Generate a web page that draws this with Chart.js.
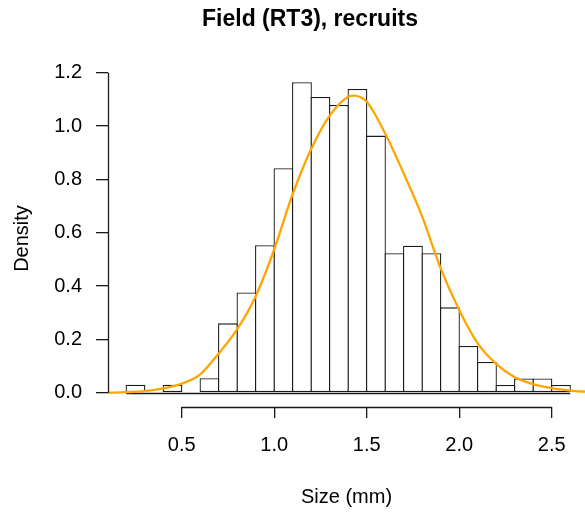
<!DOCTYPE html>
<html>
<head>
<meta charset="utf-8">
<script src="https://cdn.jsdelivr.net/npm/chart.js@4"></script>
<style>
  body { margin: 0; background: #fff; }
  .chart-container { position: relative; width: 585px; height: 512px; }
</style>
</head>
<body>
<div class="chart-container">
  <canvas id="hist-chart"></canvas>
</div>
<script>
// histogram: bin mids (mm) and density, bin width 0.1
const binMids = [0.25, 0.35, 0.45, 0.55, 0.65, 0.75, 0.85, 0.95, 1.05, 1.15, 1.25, 1.35,
                 1.45, 1.55, 1.65, 1.75, 1.85, 1.95, 2.05, 2.15, 2.25, 2.35, 2.45, 2.55];
const density = [0.030, 0, 0.030, 0, 0.054, 0.260, 0.376, 0.553, 0.842, 1.164, 1.109, 1.079,
                 1.139, 0.964, 0.523, 0.551, 0.523, 0.320, 0.175, 0.115, 0.029, 0.053, 0.053, 0.029];
const binWidth = 0.1;

// density curve
const curveX = [0.1, 0.2, 0.3, 0.4, 0.5, 0.6, 0.7, 0.8, 0.9, 1.0, 1.1, 1.2, 1.3, 1.4, 1.43,
                1.5, 1.6, 1.7, 1.8, 1.9, 2.0, 2.1, 2.2, 2.3, 2.4, 2.5, 2.6, 2.7];
const curveY = [0.000, 0.002, 0.006, 0.016, 0.034, 0.069, 0.147, 0.238, 0.362, 0.537, 0.745, 0.914,
                1.039, 1.110, 1.114, 1.091, 0.972, 0.822, 0.660, 0.466, 0.310, 0.185, 0.108, 0.058,
                0.032, 0.017, 0.008, 0.003];

const xTicks = [0.5, 1.0, 1.5, 2.0, 2.5];
const yTicks = [0, 0.2, 0.4, 0.6, 0.8, 1.0, 1.2];

const FONT = '"Liberation Sans", Arial, sans-serif';
const INK = '#1a1a1a';

// R-style axes: lines only between first and last tick, plus the main title
const rStyle = {
  id: 'rStyle',
  beforeDatasetsDraw(chart) {
    const { ctx, scales: { x, y } } = chart;
    const y0 = Math.round(y.getPixelForValue(0)) + 0.5;
    ctx.save();
    ctx.strokeStyle = INK;
    ctx.lineWidth = 1.3;
    ctx.beginPath();
    ctx.moveTo(x.getPixelForValue(binMids[0] - binWidth / 2), y0);
    ctx.lineTo(x.getPixelForValue(binMids[binMids.length - 1] + binWidth / 2), y0);
    ctx.stroke();
    ctx.restore();
  },
  afterDraw(chart) {
    const { ctx, chartArea, scales: { x, y } } = chart;
    const left = Math.round(chartArea.left) + 0.5;
    const bottom = Math.round(chartArea.bottom) + 0.5;
    ctx.save();
    ctx.strokeStyle = INK;
    ctx.lineWidth = 1.3;
    ctx.beginPath();
    ctx.moveTo(x.getPixelForValue(xTicks[0]), bottom);
    ctx.lineTo(x.getPixelForValue(xTicks[xTicks.length - 1]), bottom);
    ctx.moveTo(left, y.getPixelForValue(yTicks[0]));
    ctx.lineTo(left, y.getPixelForValue(yTicks[yTicks.length - 1]));
    ctx.stroke();

    ctx.fillStyle = '#000';
    ctx.font = 'bold 23px ' + FONT;
    ctx.textAlign = 'center';
    ctx.textBaseline = 'alphabetic';
    ctx.fillText('Field (RT3), recruits', 310, 26);
    ctx.restore();
  }
};

const ctx = document.getElementById('hist-chart');
new Chart(ctx, {
  data: {
    datasets: [
      {
        type: 'line',
        data: curveX.map((v, i) => ({ x: v, y: curveY[i] })),
        borderColor: '#FFA500',
        borderWidth: 2.3,
        pointRadius: 0,
        cubicInterpolationMode: 'monotone',
        order: 0,
      },
      {
        type: 'bar',
        data: binMids.map((v, i) => ({ x: v, y: density[i] })),
        backgroundColor: '#fff',
        borderColor: INK,
        borderWidth: 1.3,
        borderSkipped: false,
        categoryPercentage: 1,
        barPercentage: 1.07,
        order: 1,
      },
    ],
  },
  options: {
    responsive: true,
    maintainAspectRatio: false,
    animation: false,
    layout: { padding: { top: 70, left: 0, right: 0, bottom: 0 } },
    plugins: {
      legend: { display: false },
      tooltip: { enabled: false },
    },
    scales: {
      x: {
        type: 'linear',
        min: 0.1016,
        max: 2.68,
        offset: false,
        afterBuildTicks: (s) => { s.ticks = xTicks.map((v) => ({ value: v })); },
        afterFit: (s) => { s.height = 105; },
        grid: { offset: false, drawOnChartArea: false, drawTicks: true, tickLength: 11, color: INK, lineWidth: 1.3 },
        border: { display: false },
        ticks: {
          padding: 15,
          color: '#000',
          font: { family: FONT, size: 20 },
          maxRotation: 0,
          callback: (v) => Number(v).toFixed(1),
        },
        title: {
          display: true,
          text: 'Size (mm)',
          color: '#000',
          font: { family: FONT, size: 20 },
          padding: { top: 0, bottom: 3 },
        },
      },
      y: {
        type: 'linear',
        min: -0.0536,
        max: 1.21,
        afterBuildTicks: (s) => { s.ticks = yTicks.map((v) => ({ value: v })); },
        afterFit: (s) => { s.width = 108; },
        grid: { drawOnChartArea: false, drawTicks: true, tickLength: 12, color: INK, lineWidth: 1.3 },
        border: { display: false },
        ticks: {
          padding: 14,
          color: '#000',
          font: { family: FONT, size: 20 },
          callback: (v) => Number(v).toFixed(1),
        },
        title: {
          display: true,
          text: 'Density',
          color: '#000',
          font: { family: FONT, size: 20 },
          padding: { top: 10, bottom: 0 },
        },
      },
    },
  },
  plugins: [rStyle],
});
</script>
</body>
</html>
